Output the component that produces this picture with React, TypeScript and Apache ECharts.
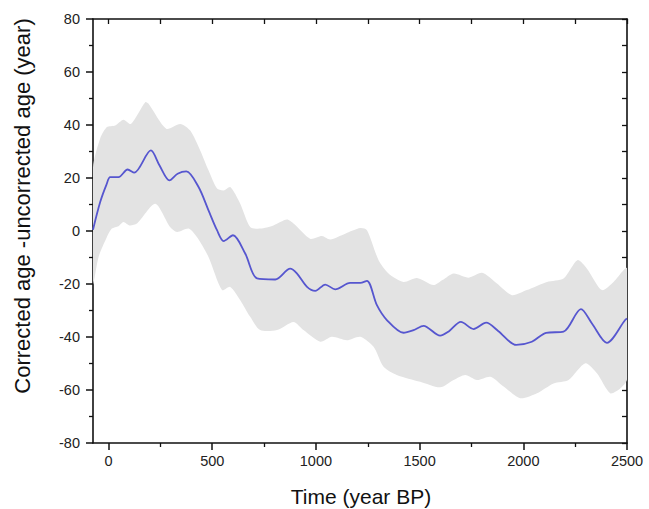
import React, { useEffect, useRef } from "react";
import * as echarts from "echarts";

// Central estimate (corrected − uncorrected age)
const centerX = [-75, -40, -10, 8, 48, 92, 124, 204, 246, 294, 333, 375, 434, 482, 523, 555, 600, 659, 716, 804, 876, 908, 957, 997, 1045, 1093, 1165, 1214, 1246, 1294, 1342, 1422, 1471, 1519, 1599, 1639, 1699, 1760, 1821, 1880, 1966, 2041, 2110, 2194, 2278, 2331, 2403, 2491, 2500];
const centerY = [0.5, 11, 17.5, 20.3, 20.3, 23.2, 22, 30.4, 24.7, 19.1, 21.6, 22.5, 16.6, 7.8, 0.3, -3.8, -1.6, -8.5, -17.9, -18.3, -14.2, -16, -21.1, -22.6, -20.2, -22, -19.6, -19.6, -18.8, -28, -33.6, -38.4, -37.4, -35.8, -39.5, -38, -34.3, -37, -34.6, -37.8, -43, -41.8, -38.4, -38, -29.5, -34.9, -42.2, -33.6, -33];

// Upper bound of uncertainty band
const upperX = [-75, -40, -8, 32, 72, 108, 177, 193, 278, 346, 394, 442, 482, 523, 555, 587, 635, 683, 732, 795, 860, 892, 972, 1029, 1069, 1141, 1214, 1246, 1302, 1350, 1422, 1487, 1567, 1610, 1664, 1737, 1801, 1873, 1945, 2017, 2114, 2194, 2261, 2307, 2379, 2435, 2483, 2500];
const upperY = [24, 35, 39.2, 39.8, 42, 40.4, 48.6, 48, 38.6, 40.4, 37.9, 30.4, 22.9, 16, 15.3, 16.6, 10.3, 1.5, 0.9, 2.1, 4.3, 2.8, -2.9, -1.9, -3.2, -1, 1.1, 0.3, -11, -16, -19.2, -17.7, -20.4, -18.5, -16, -17.6, -15.8, -19.8, -24.2, -22.3, -19.2, -17.9, -11, -14.2, -22.3, -19.2, -14.8, -14];

// Lower bound of uncertainty band
const lowerX = [-75, -48, -8, 16, 48, 72, 101, 137, 225, 297, 330, 386, 426, 482, 547, 587, 635, 683, 731, 812, 892, 940, 1021, 1077, 1149, 1214, 1278, 1326, 1390, 1503, 1599, 1664, 1720, 1777, 1841, 1905, 1985, 2066, 2146, 2218, 2299, 2355, 2419, 2467, 2500];
const lowerY = [-20, -9.8, -2.3, 0.9, 1.8, 3.4, 2.1, 2.8, 10.3, 1.5, -0.4, 0.9, -2.3, -9.8, -22.3, -21.1, -26.1, -32.4, -37.4, -37.4, -34.3, -37.4, -41.8, -39.9, -41.2, -39.9, -43.7, -51.2, -54.3, -56.9, -59, -56.2, -54.3, -56.2, -55, -58.7, -63.1, -61.2, -57.5, -56.2, -49.9, -53.7, -61.2, -59.4, -56];

const xMajorTicks = [0, 500, 1000, 1500, 2000, 2500];
const xMinorTicks = [250, 750, 1250, 1750, 2250];
const xTopTicks = [0, 250, 500, 750, 1000, 1250, 1500, 1750, 2000, 2250, 2500];

const xTitle = "Time (year BP)";
const yTitle = "Corrected age -uncorrected age (year)";

export default function App() {
  const ref = useRef<HTMLDivElement>(null);
  useEffect(() => {
    if (!ref.current) return;
    const chart = echarts.init(ref.current, null, { renderer: "svg" });
    const font = "Liberation Sans, Arial, sans-serif";
    const axisColor = "#111";
    const upperPts = upperX.map((x, i) => [x, upperY[i]]);
    const lowerPts = lowerX.map((x, i) => [x, lowerY[i]]);
    const centerPts = centerX.map((x, i) => [x, centerY[i]]);
    const xBase = { type: "value", min: -75, max: 2500, splitLine: { show: false } };
    chart.setOption({
      animation: false,
      backgroundColor: "#fff",
      grid: { left: 93, right: 22, top: 19, bottom: 66, containLabel: false },
      xAxis: [
        {
          ...xBase,
          position: "bottom",
          axisLine: { show: true, onZero: false, lineStyle: { color: axisColor, width: 1.6 } },
          axisTick: { show: true, customValues: xMajorTicks, length: 7, lineStyle: { color: axisColor, width: 1.5 } },
          axisLabel: {
            show: true,
            customValues: xMajorTicks,
            margin: 10,
            fontSize: 14.5,
            color: "#222",
            fontFamily: font,
            formatter: (v: number) => String(v),
          },
        },
        {
          ...xBase,
          position: "bottom",
          axisLine: { show: false, onZero: false },
          axisTick: { show: true, customValues: xMinorTicks, length: 4, lineStyle: { color: axisColor, width: 1.3 } },
          axisLabel: { show: false },
        },
        {
          ...xBase,
          position: "top",
          axisLine: { show: true, onZero: false, lineStyle: { color: axisColor, width: 1.6 } },
          axisTick: { show: true, inside: true, customValues: xTopTicks, length: 5, lineStyle: { color: axisColor, width: 1.3 } },
          axisLabel: { show: false },
        },
      ],
      yAxis: [
        {
          type: "value",
          position: "left",
          min: -80,
          max: 80,
          interval: 20,
          splitLine: { show: false },
          axisLine: { show: true, onZero: false, lineStyle: { color: axisColor, width: 1.6 } },
          axisTick: { show: true, length: 7, lineStyle: { color: axisColor, width: 1.5 } },
          minorTick: { show: true, splitNumber: 2, length: 4, lineStyle: { color: axisColor, width: 1.3 } },
          axisLabel: {
            show: true,
            margin: 13,
            fontSize: 14.5,
            color: "#222",
            fontFamily: font,
            formatter: (v: number) => String(v),
          },
        },
        {
          type: "value",
          position: "right",
          min: -80,
          max: 80,
          interval: 10,
          splitLine: { show: false },
          axisLine: { show: true, onZero: false, lineStyle: { color: axisColor, width: 1.6 } },
          axisTick: { show: true, inside: true, length: 5, lineStyle: { color: axisColor, width: 1.3 } },
          axisLabel: { show: false },
        },
      ],
      graphic: [
        {
          type: "text",
          x: 361,
          y: 496,
          style: { text: xTitle, fontSize: 21, fontFamily: font, fill: "#111", align: "center", verticalAlign: "middle" },
        },
        {
          type: "text",
          x: 22,
          y: 206,
          rotation: Math.PI / 2,
          style: { text: yTitle, fontSize: 22, fontFamily: font, fill: "#111", align: "center", verticalAlign: "middle" },
        },
      ],
      series: [
        {
          type: "custom",
          xAxisIndex: 0,
          yAxisIndex: 0,
          clip: true,
          data: [[0, 0]],
          z: 1,
          renderItem: (_params: any, api: any) => {
            const pts = upperPts.map((p) => api.coord(p)).concat(lowerPts.slice().reverse().map((p) => api.coord(p)));
            return {
              type: "polygon",
              shape: { points: pts, smooth: 0.25 },
              style: { fill: "#e3e3e3", stroke: "none" },
            };
          },
        },
        {
          type: "line",
          xAxisIndex: 0,
          yAxisIndex: 0,
          data: centerPts,
          showSymbol: false,
          smooth: 0.3,
          z: 3,
          lineStyle: { color: "#5656cf", width: 1.8 },
        },
      ],
    });
    return () => chart.dispose();
  }, []);
  return <div ref={ref} style={{ position: "fixed", left: 0, top: 0, width: 649, height: 509 }} />;
}
